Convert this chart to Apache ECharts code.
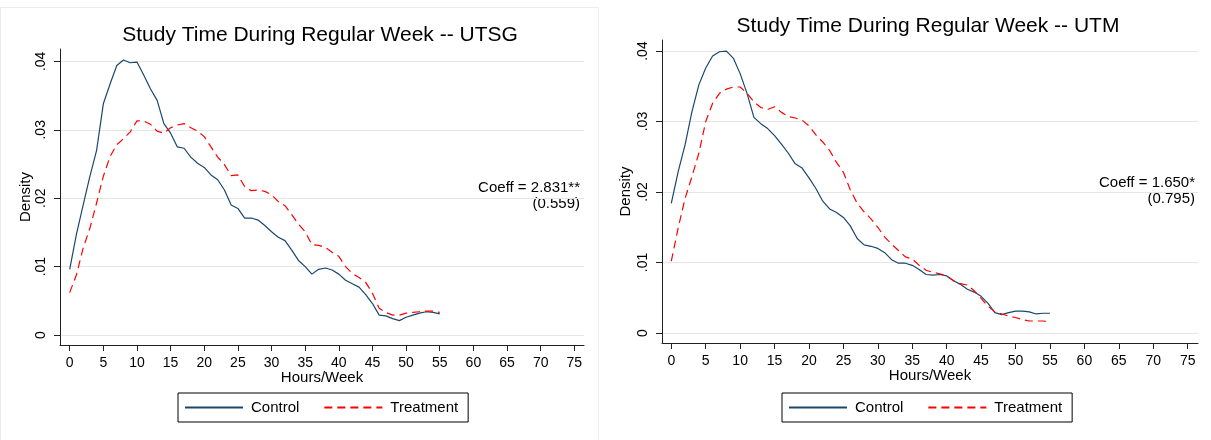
<!DOCTYPE html>
<html>
<head>
<meta charset="utf-8">
<script src="https://cdn.jsdelivr.net/npm/echarts@6.0.0/dist/echarts.min.js"></script>
<style>
html, body { margin: 0; padding: 0; background: #fff; }
#chart { width: 1211px; height: 440px; }
</style>
</head>
<body>
<div id="chart"></div>
<script>
// hours/week, one point per hour
const hours = [0,1,2,3,4,5,6,7,8,9,10,11,12,13,14,15,16,17,18,19,20,21,22,23,24,25,26,27,
  28,29,30,31,32,33,34,35,36,37,38,39,40,41,42,43,44,45,46,47,48,49,50,51,52,53,54,55];

// UTSG densities
const utsgControl = [0.0096,0.0147,0.0190,0.0232,0.0270,0.0338,0.0367,0.0394,0.0402,0.0398,0.0399,0.0380,0.0360,0.0343,
  0.0309,0.0295,0.0275,0.0273,0.0260,0.0251,0.0245,0.0234,0.0227,0.0212,0.0190,0.0185,0.0171,0.0171,
  0.0168,0.0160,0.0151,0.0143,0.0138,0.0124,0.0109,0.0100,0.0089,0.0096,0.0098,0.0095,0.0089,0.0080,
  0.0075,0.0070,0.0059,0.0046,0.0029,0.0028,0.0024,0.0021,0.0026,0.0029,0.0032,0.0034,0.0033,0.0031];
const utsgTreatment = [0.0062,0.0088,0.0127,0.0156,0.0193,0.0232,0.0261,0.0278,0.0287,0.0297,0.0313,0.0313,0.0308,0.0298,
  0.0295,0.0303,0.0307,0.0309,0.0303,0.0298,0.0290,0.0275,0.0260,0.0249,0.0233,0.0234,0.0217,0.0211,
  0.0212,0.0210,0.0205,0.0195,0.0189,0.0176,0.0162,0.0151,0.0132,0.0131,0.0128,0.0121,0.0115,0.0100,
  0.0090,0.0084,0.0077,0.0061,0.0039,0.0033,0.0029,0.0029,0.0032,0.0033,0.0034,0.0035,0.0035,0.0033];

// UTM densities
const utmControl = [0.0184,0.0229,0.0267,0.0314,0.0352,0.0376,0.0393,0.0399,0.0400,0.0390,0.0368,0.0340,0.0306,0.0297,
  0.0290,0.0280,0.0268,0.0255,0.0240,0.0234,0.0220,0.0205,0.0187,0.0176,0.0171,0.0164,0.0152,0.0134,
  0.0125,0.0123,0.0120,0.0114,0.0104,0.0099,0.0099,0.0096,0.0090,0.0083,0.0082,0.0083,0.0081,0.0074,
  0.0069,0.0062,0.0058,0.0052,0.0042,0.0029,0.0026,0.0029,0.0031,0.0031,0.0030,0.0027,0.0028,0.0028];
const utmTreatment = [0.0102,0.0149,0.0191,0.0222,0.0255,0.0300,0.0326,0.0340,0.0346,0.0349,0.0349,0.0340,0.0328,0.0320,
  0.0317,0.0321,0.0313,0.0307,0.0305,0.0302,0.0294,0.0281,0.0271,0.0259,0.0242,0.0228,0.0203,0.0184,
  0.0172,0.0162,0.0150,0.0136,0.0126,0.0117,0.0108,0.0105,0.0096,0.0089,0.0086,0.0084,0.0081,0.0074,
  0.0070,0.0068,0.0060,0.0049,0.0038,0.0030,0.0027,0.0024,0.0022,0.0019,0.0017,0.0017,0.0017,0.0016];

const xTicks = [0,5,10,15,20,25,30,35,40,45,50,55,60,65,70,75];
const yTicks = [0, 0.01, 0.02, 0.03, 0.04];
const seriesNames = ['Control', 'Treatment'];

const FONT = 'Liberation Sans, Arial, sans-serif';
const NAVY = '#1a476f';
const RED = '#ff0000';
const AXIS = '#222';

function pairs(arr) {
    return hours.map((h, i) => [h, arr[i]]);
}

function xAxisFor(idx, min, max) {
    return {
        type: 'value', gridIndex: idx, min: min, max: max,
        name: 'Hours/Week', nameLocation: 'middle', nameGap: 25, nameMoveOverlap: false,
        nameTextStyle: { fontFamily: FONT, fontSize: 15, color: '#000' },
        axisLine: { show: true, onZero: false, lineStyle: { color: AXIS, width: 1 } },
        axisTick: { show: true, length: 6, customValues: xTicks, lineStyle: { color: AXIS } },
        axisLabel: { customValues: xTicks, margin: 11, fontFamily: FONT, fontSize: 14, color: '#000' },
        splitLine: { show: false }
    };
}

function yAxisFor(idx, min, max, gap) {
    return {
        type: 'value', gridIndex: idx, min: min, max: max,
        name: 'Density', nameLocation: 'middle', nameGap: gap,
        nameTextStyle: { fontFamily: FONT, fontSize: 15, color: '#000' },
        axisLine: { show: true, onZero: false, lineStyle: { color: AXIS, width: 1 } },
        axisTick: { show: true, length: 6, customValues: yTicks, lineStyle: { color: AXIS } },
        axisLabel: {
            customValues: yTicks, rotate: 90, margin: 12,
            fontFamily: FONT, fontSize: 14, color: '#000',
            formatter: v => v === 0 ? '0' : v.toFixed(2).replace(/^0/, '')
        },
        splitLine: { show: true, lineStyle: { color: '#e6e6e6', width: 1 } }
    };
}

function lineSeries(name, data, idx, dashed) {
    return {
        name: name, type: 'line', xAxisIndex: idx, yAxisIndex: idx,
        data: pairs(data), symbol: 'none', smooth: false,
        lineStyle: dashed
            ? { color: RED, width: 1.2, type: [8, 5] }
            : { color: NAVY, width: 1.2 },
        itemStyle: { color: dashed ? RED : NAVY }
    };
}

function legendAt(left) {
    return {
        left: left, top: 393, orient: 'horizontal',
        data: seriesNames,
        itemWidth: 58, itemHeight: 14, itemGap: 24,
        padding: [7, 10, 7, 6],
        borderColor: '#000', borderWidth: 1, borderRadius: 0,
        selectedMode: false,
        itemStyle: { opacity: 0 },
        textStyle: { fontFamily: FONT, fontSize: 15, color: '#000', padding: [0, 0, 0, 3] }
    };
}

function txt(x, y, text, size, align) {
    return {
        type: 'text', x: x, y: y, silent: true,
        style: { text: text, fill: '#000', font: size + 'px ' + FONT, textAlign: align, textVerticalAlign: 'middle' }
    };
}

const chart = echarts.init(document.getElementById('chart'), null, { renderer: 'canvas' });
chart.setOption({
    animation: false,
    backgroundColor: '#fff',
    grid: [
        { left: 60, top: 49, width: 524, height: 296 },
        { left: 662, top: 40, width: 536, height: 303 }
    ],
    xAxis: [xAxisFor(0, -1.44, 76.44), xAxisFor(1, -1.35, 76.5)],
    yAxis: [yAxisFor(0, -0.00146, 0.04181, 27), yAxisFor(1, -0.00142, 0.04157, 29)],
    legend: [legendAt(178), legendAt(782)],
    series: [
        lineSeries('Control', utsgControl, 0, false),
        lineSeries('Treatment', utsgTreatment, 0, true),
        lineSeries('Control', utmControl, 1, false),
        lineSeries('Treatment', utmTreatment, 1, true)
    ],
    graphic: [
        { type: 'rect', silent: true, shape: { x: 0.5, y: 7.5, width: 598, height: 440 },
          style: { fill: null, stroke: '#ededed', lineWidth: 1 } },
        txt(320, 35, 'Study Time During Regular Week -- UTSG', 21, 'center'),
        txt(928, 26, 'Study Time During Regular Week -- UTM', 21, 'center'),
        txt(580, 188, 'Coeff = 2.831**', 15, 'right'),
        txt(580, 204, '(0.559)', 15, 'right'),
        txt(1195, 183, 'Coeff = 1.650*', 15, 'right'),
        txt(1195, 199, '(0.795)', 15, 'right')
    ]
});
</script>
</body>
</html>
